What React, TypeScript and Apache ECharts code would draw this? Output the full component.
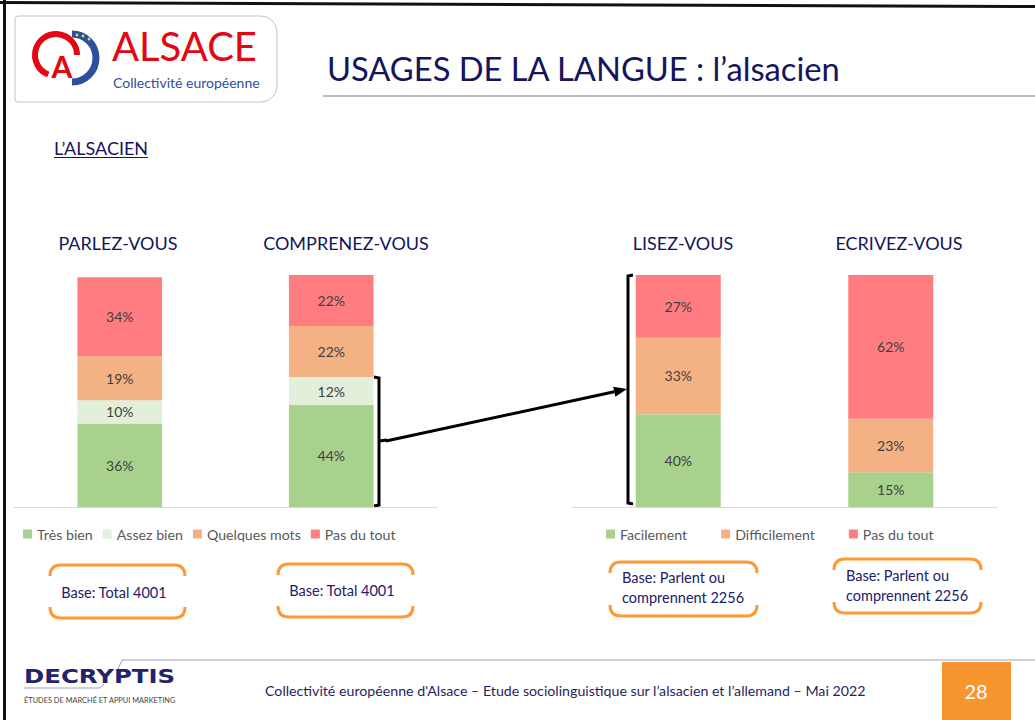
import React, { useEffect, useRef } from 'react';
import * as echarts from 'echarts';

// ---- data ----
const leftCategories = ['PARLEZ-VOUS', 'COMPRENEZ-VOUS'];
const rightCategories = ['LISEZ-VOUS', 'ECRIVEZ-VOUS'];
const tresBien = [36, 44];
const assezBien = [10, 12];
const quelquesMots = [19, 22];
const pasDuToutLeft = [34, 22];
const facilement = [40, 15];
const difficilement = [33, 23];
const pasDuToutRight = [27, 62];
const leftLegend = ['Très bien', 'Assez bien', 'Quelques mots', 'Pas du tout'];
const rightLegend = ['Facilement', 'Difficilement', 'Pas du tout'];
const leftBases = ['Base: Total 4001', 'Base: Total 4001'];
const rightBases = ['Base: Parlent ou\ncomprennent 2256', 'Base: Parlent ou\ncomprennent 2256'];

const FONT = 'Lato, Carlito, "Open Sans", sans-serif';
const NAVY = '#15155c';
const GREEN = '#a9d18e';
const LIGHTGREEN = '#e2efda';
const ORANGE = '#f4b183';
const RED = '#ff7c80';

function boxPath(W: number, H: number) {
  const r = 11;
  return `M0,${r} Q0,0 ${r},0 L${W - r},0 Q${W},0 ${W},${r} M0,${H - r} Q0,${H} ${r},${H} L${W - r},${H} Q${W},${H} ${W},${H - r}`;
}
echarts.graphic.registerShape('baseBoxA', echarts.graphic.extendPath(boxPath(135, 53), {}));
echarts.graphic.registerShape('baseBoxB', echarts.graphic.extendPath(boxPath(147, 54), {}));

function barSeries(name: string, data: number[], color: string, idx: number, stack: string) {
  return {
    type: 'bar',
    name,
    data,
    stack,
    xAxisIndex: idx,
    yAxisIndex: idx,
    barWidth: '40%',
    itemStyle: { color },
    label: {
      show: true,
      position: 'inside',
      formatter: '{c}%',
      color: '#404040',
      fontSize: 14,
      fontFamily: FONT,
    },
  };
}

export default function App() {
  const ref = useRef<HTMLDivElement>(null);
  useEffect(() => {
    if (!ref.current) return;
    const chart = echarts.init(ref.current, null, { renderer: 'svg' });
    const leftTitleX = [118, 346];
    const rightTitleX = [683, 899];
    const arrowDx = 627 - 386;
    const arrowDy = 389 - 441;
    const len = Math.sqrt(arrowDx * arrowDx + arrowDy * arrowDy);
    const ux = arrowDx / len, uy = arrowDy / len;
    const tip = [627, 389];
    const base = [tip[0] - 13 * ux, tip[1] - 13 * uy];
    const nx = -uy * 5, ny = ux * 5;

    const baseText = { fill: '#20206a', fontSize: 14.5, fontFamily: FONT, verticalAlign: 'middle' };

    const graphic: any[] = [
      // page borders
      { type: 'rect', shape: { x: 3, y: 0, width: 3, height: 720 }, style: { fill: '#111' } },
      { type: 'polygon', shape: { points: [[0, 1], [1035, 5], [1035, 8], [0, 4]] }, style: { fill: '#111' } },
      // logo box
      { type: 'rect', shape: { x: 15, y: 16, width: 262, height: 86, r: [3, 16, 16, 3] }, style: { fill: 'none', stroke: '#c4c4c4', lineWidth: 1 } },
      { type: 'arc', shape: { cx: 72, cy: 58, r: 24, startAngle: -Math.PI * 0.5, endAngle: Math.PI * 0.5, clockwise: true }, style: { stroke: '#2e4f9e', lineWidth: 7, fill: 'none' } },
      { type: 'circle', shape: { cx: 77, cy: 35, r: 1.4 }, style: { fill: '#d8e040' } },
      { type: 'circle', shape: { cx: 83, cy: 36, r: 1.4 }, style: { fill: '#d8e040' } },
      { type: 'circle', shape: { cx: 89, cy: 39, r: 1.4 }, style: { fill: '#d8e040' } },
      { type: 'arc', shape: { cx: 56, cy: 55, r: 21, startAngle: Math.PI * 0.62, endAngle: Math.PI * 2.0, clockwise: true }, style: { stroke: '#e30613', lineWidth: 6, fill: 'none' } },
      { type: 'text', style: { x: 62, y: 66, text: 'A', fill: '#e30613', fontSize: 30, fontWeight: 'bold', fontFamily: FONT, align: 'center', verticalAlign: 'middle' } },
      { type: 'text', style: { x: 112, y: 46, text: 'ALSACE', fill: '#e30613', fontSize: 40, fontFamily: FONT, verticalAlign: 'middle' } },
      { type: 'text', style: { x: 113, y: 82, text: 'Collectivité européenne', fill: '#2e4f9e', fontSize: 14, fontFamily: FONT, verticalAlign: 'middle' } },
      // title
      { type: 'text', style: { x: 327, y: 68, text: 'USAGES DE LA LANGUE : l’alsacien', fill: NAVY, fontSize: 32.7, fontFamily: FONT, verticalAlign: 'middle' } },
      { type: 'line', shape: { x1: 323, y1: 96, x2: 1035, y2: 96 }, style: { stroke: '#a6a6a6', lineWidth: 1.5 } },
      // subtitle
      { type: 'text', style: { x: 54, y: 148, text: 'L’ALSACIEN', fill: NAVY, fontSize: 18, fontFamily: FONT, verticalAlign: 'middle' } },
      { type: 'line', shape: { x1: 54, y1: 157.5, x2: 148, y2: 157.5 }, style: { stroke: NAVY, lineWidth: 1 } },
      // brackets and arrow
      { type: 'polyline', shape: { points: [[374, 377], [379, 378], [379, 505], [374, 506]] }, style: { stroke: '#000', lineWidth: 3, fill: 'none' } },
      { type: 'line', shape: { x1: 379, y1: 441, x2: 387, y2: 440 }, style: { stroke: '#000', lineWidth: 3 } },
      { type: 'polyline', shape: { points: [[633, 275], [628, 276], [628, 503], [633, 504]] }, style: { stroke: '#000', lineWidth: 3, fill: 'none' } },
      { type: 'line', shape: { x1: 386, y1: 441, x2: base[0], y2: base[1] }, style: { stroke: '#000', lineWidth: 3 } },
      { type: 'polygon', shape: { points: [tip, [base[0] + nx, base[1] + ny], [base[0] - nx, base[1] - ny]] }, style: { fill: '#000' } },
      // base boxes
      { type: 'baseBoxA', x: 50, y: 565, style: { stroke: '#ff9933', lineWidth: 3, fill: 'none' } },
      { type: 'baseBoxA', x: 278, y: 564, style: { stroke: '#ff9933', lineWidth: 3, fill: 'none' } },
      { type: 'baseBoxB', x: 610, y: 562, style: { stroke: '#ff9933', lineWidth: 3, fill: 'none' } },
      { type: 'baseBoxB', x: 834, y: 559, style: { stroke: '#ff9933', lineWidth: 3, fill: 'none' } },
      { type: 'text', style: { ...baseText, x: 114, y: 592, text: leftBases[0], align: 'center' } },
      { type: 'text', style: { ...baseText, x: 342, y: 590, text: leftBases[1], align: 'center' } },
      { type: 'text', style: { ...baseText, x: 622, y: 587, text: rightBases[0], lineHeight: 20 } },
      { type: 'text', style: { ...baseText, x: 846, y: 585, text: rightBases[1], lineHeight: 20 } },
      // footer
      { type: 'line', shape: { x1: 122, y1: 660, x2: 1035, y2: 660 }, style: { stroke: '#cfcfe0', lineWidth: 2 } },
      { type: 'line', shape: { x1: 122, y1: 660, x2: 118, y2: 669 }, style: { stroke: '#a0a0bb', lineWidth: 1 } },
      { type: 'text', x: 24, y: 676, scaleX: 1.22, style: { x: 0, y: 0, text: 'DECRYPTIS', fill: '#23236b', fontSize: 20, fontWeight: 'bold', fontFamily: '"DejaVu Sans", sans-serif', verticalAlign: 'middle' } },
      { type: 'polyline', shape: { points: [[24, 688], [100, 688], [104, 684]] }, style: { stroke: '#a0a0bb', lineWidth: 1, fill: 'none' } },
      { type: 'text', style: { x: 24, y: 700, text: 'ÉTUDES DE MARCHÉ ET APPUI MARKETING', fill: '#444', fontSize: 7.4, fontFamily: FONT, verticalAlign: 'middle' } },
      { type: 'text', style: { x: 265, y: 690, text: 'Collectivité européenne d\'Alsace – Etude sociolinguistique sur l’alsacien et l’allemand – Mai 2022', fill: '#1f1f5f', fontSize: 14.2, fontFamily: FONT, verticalAlign: 'middle' } },
      { type: 'rect', shape: { x: 942, y: 662, width: 69, height: 58 }, style: { fill: '#f7962f' } },
      { type: 'text', style: { x: 976, y: 691, text: '28', fill: '#fff', fontSize: 20, fontFamily: FONT, align: 'center', verticalAlign: 'middle' } },
    ];
    leftCategories.forEach((c, i) => {
      graphic.push({ type: 'text', style: { x: leftTitleX[i], y: 243, text: c, fill: NAVY, fontSize: 18, fontFamily: FONT, align: 'center', verticalAlign: 'middle' } });
    });
    rightCategories.forEach((c, i) => {
      graphic.push({ type: 'text', style: { x: rightTitleX[i], y: 243, text: c, fill: NAVY, fontSize: 18, fontFamily: FONT, align: 'center', verticalAlign: 'middle' } });
    });

    const axisCommon = {
      type: 'category',
      axisLine: { show: true, lineStyle: { color: '#d9d9d9', width: 1 } },
      axisTick: { show: false },
      axisLabel: { show: false },
    };
    const legendCommon = {
      top: 527,
      itemWidth: 9,
      itemHeight: 9,
      icon: 'rect',
      padding: 0,
      selectedMode: false,
      textStyle: { fontSize: 14.2, color: '#595959', fontFamily: FONT },
    };
    chart.setOption({
      animation: false,
      backgroundColor: '#fff',
      grid: [
        { left: 14, width: 423, top: 275, height: 232 },
        { left: 572, width: 425, top: 275, height: 232 },
      ],
      xAxis: [
        { ...axisCommon, gridIndex: 0, data: leftCategories },
        { ...axisCommon, gridIndex: 1, data: rightCategories },
      ],
      yAxis: [
        { type: 'value', gridIndex: 0, min: 0, max: 100, show: false },
        { type: 'value', gridIndex: 1, min: 0, max: 100, show: false },
      ],
      legend: [
        { ...legendCommon, left: 23, itemGap: 10, data: leftLegend },
        { ...legendCommon, left: 606, itemGap: 34, data: rightLegend },
      ],
      series: [
        barSeries(leftLegend[0], tresBien, GREEN, 0, 'L'),
        barSeries(leftLegend[1], assezBien, LIGHTGREEN, 0, 'L'),
        barSeries(leftLegend[2], quelquesMots, ORANGE, 0, 'L'),
        barSeries(leftLegend[3], pasDuToutLeft, RED, 0, 'L'),
        barSeries(rightLegend[0], facilement, GREEN, 1, 'R'),
        barSeries(rightLegend[1], difficilement, ORANGE, 1, 'R'),
        barSeries(rightLegend[2], pasDuToutRight, RED, 1, 'R'),
      ],
      graphic,
    });
    return () => chart.dispose();
  }, []);
  return <div ref={ref} style={{ position: 'absolute', left: 0, top: 0, width: 1035, height: 720, background: '#fff' }} />;
}
